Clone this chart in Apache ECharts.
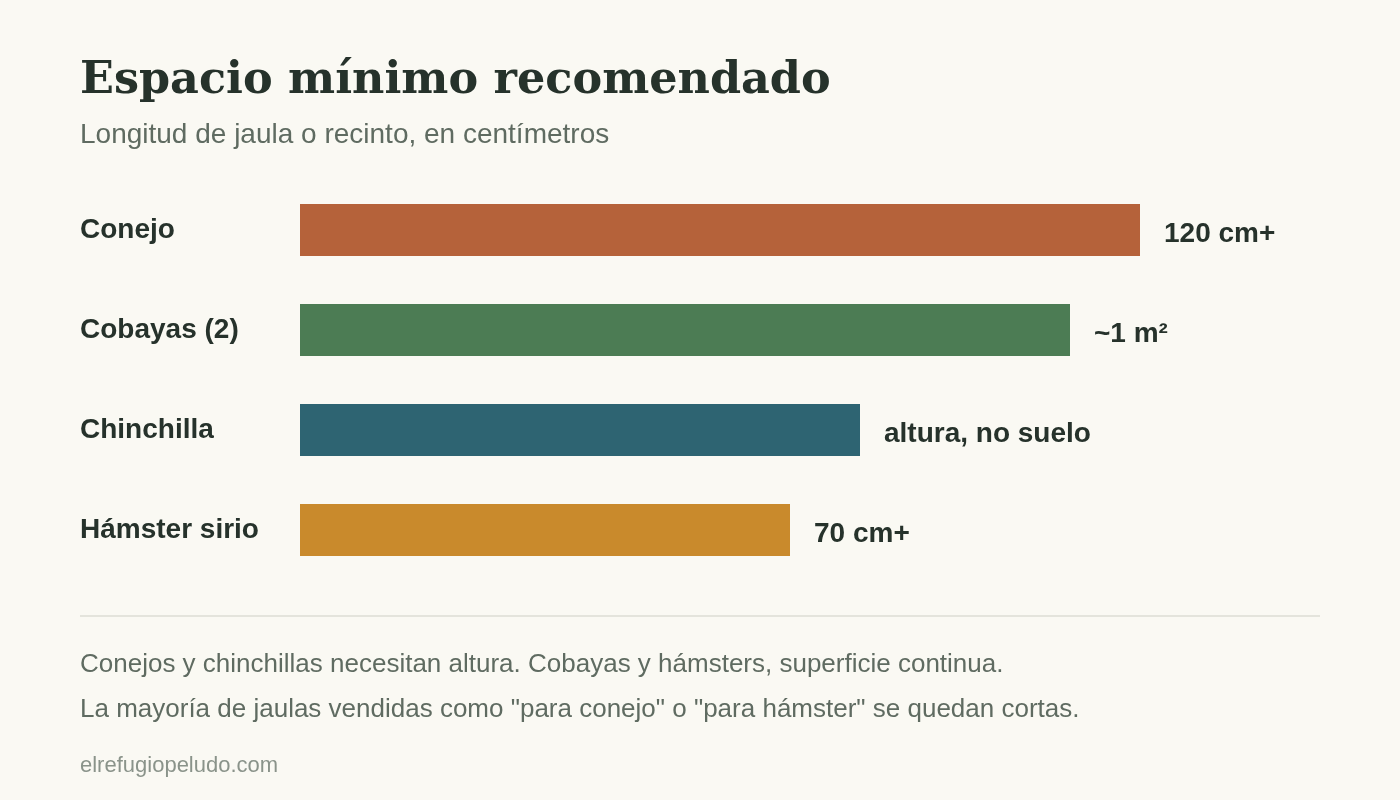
<!DOCTYPE html>
<html>
<head>
<meta charset="utf-8">
<script src="https://cdn.jsdelivr.net/npm/echarts@6/dist/echarts.min.js"></script>
<style>
  html, body { margin: 0; padding: 0; background: #faf9f3; }
  #chart { width: 1400px; height: 800px; }
</style>
</head>
<body>
<div id="chart"></div>
<script>
// datos
var animals = ['Conejo', 'Cobayas (2)', 'Chinchilla', 'Hámster sirio'];
var lengths = [120, 110, 80, 70];
var valueLabels = ['120 cm+', '~1 m²', 'altura, no suelo', '70 cm+'];
var barColors = ['#b5623a', '#4c7c54', '#2e6472', '#c98a2c'];

var titleText = 'Espacio mínimo recomendado';
var subtitleText = 'Longitud de jaula o recinto, en centímetros';
var notes = [
  'Conejos y chinchillas necesitan altura. Cobayas y hámsters, superficie continua.',
  'La mayoría de jaulas vendidas como "para conejo" o "para hámster" se quedan cortas.'
];
var sourceText = 'elrefugiopeludo.com';

var sans = '"Liberation Sans", Arial, sans-serif';
var dark = '#26322b';
var muted = '#5f6b61';

var chart = echarts.init(document.getElementById('chart'), null, { renderer: 'canvas' });

var option = {
  backgroundColor: '#faf9f3',
  animation: false,
  grid: {
    left: 300,
    right: 260,
    top: 180,
    height: 400
  },
  xAxis: {
    type: 'value',
    min: 0,
    max: 120,
    show: false
  },
  yAxis: {
    type: 'category',
    data: animals,
    inverse: true,
    axisLine: { show: false },
    axisTick: { show: false },
    splitLine: { show: false },
    axisLabel: {
      align: 'left',
      margin: 220,
      color: dark,
      fontFamily: sans,
      fontWeight: 'bold',
      fontSize: 28,
      padding: [0, 0, 6, 0]
    }
  },
  series: [{
    type: 'bar',
    barWidth: 52,
    data: lengths.map(function (v, i) {
      return { value: v, itemStyle: { color: barColors[i] } };
    }),
    label: {
      show: true,
      position: 'right',
      distance: 24,
      offset: [0, 4],
      color: dark,
      fontFamily: sans,
      fontWeight: 'bold',
      fontSize: 28,
      formatter: function (p) { return valueLabels[p.dataIndex]; }
    }
  }],
  graphic: [
    {
      type: 'text', left: 80, top: 59,
      style: { text: titleText, fill: dark, font: 'bold 44.5px "DejaVu Serif", Georgia, serif' }
    },
    {
      type: 'text', left: 80, top: 121,
      style: { text: subtitleText, fill: muted, font: '28px ' + sans }
    },
    {
      type: 'line',
      shape: { x1: 80, y1: 616, x2: 1320, y2: 616 },
      style: { stroke: '#dcdcd4', lineWidth: 1.5 }
    },
    {
      type: 'text', left: 80, top: 652,
      style: { text: notes[0], fill: muted, font: '26px ' + sans }
    },
    {
      type: 'text', left: 80, top: 697,
      style: { text: notes[1], fill: muted, font: '26px ' + sans }
    },
    {
      type: 'text', left: 80, top: 755,
      style: { text: sourceText, fill: '#8a938a', font: '22px ' + sans }
    }
  ]
};

chart.setOption(option);
window.addEventListener('resize', chart.resize);
</script>
</body>
</html>
